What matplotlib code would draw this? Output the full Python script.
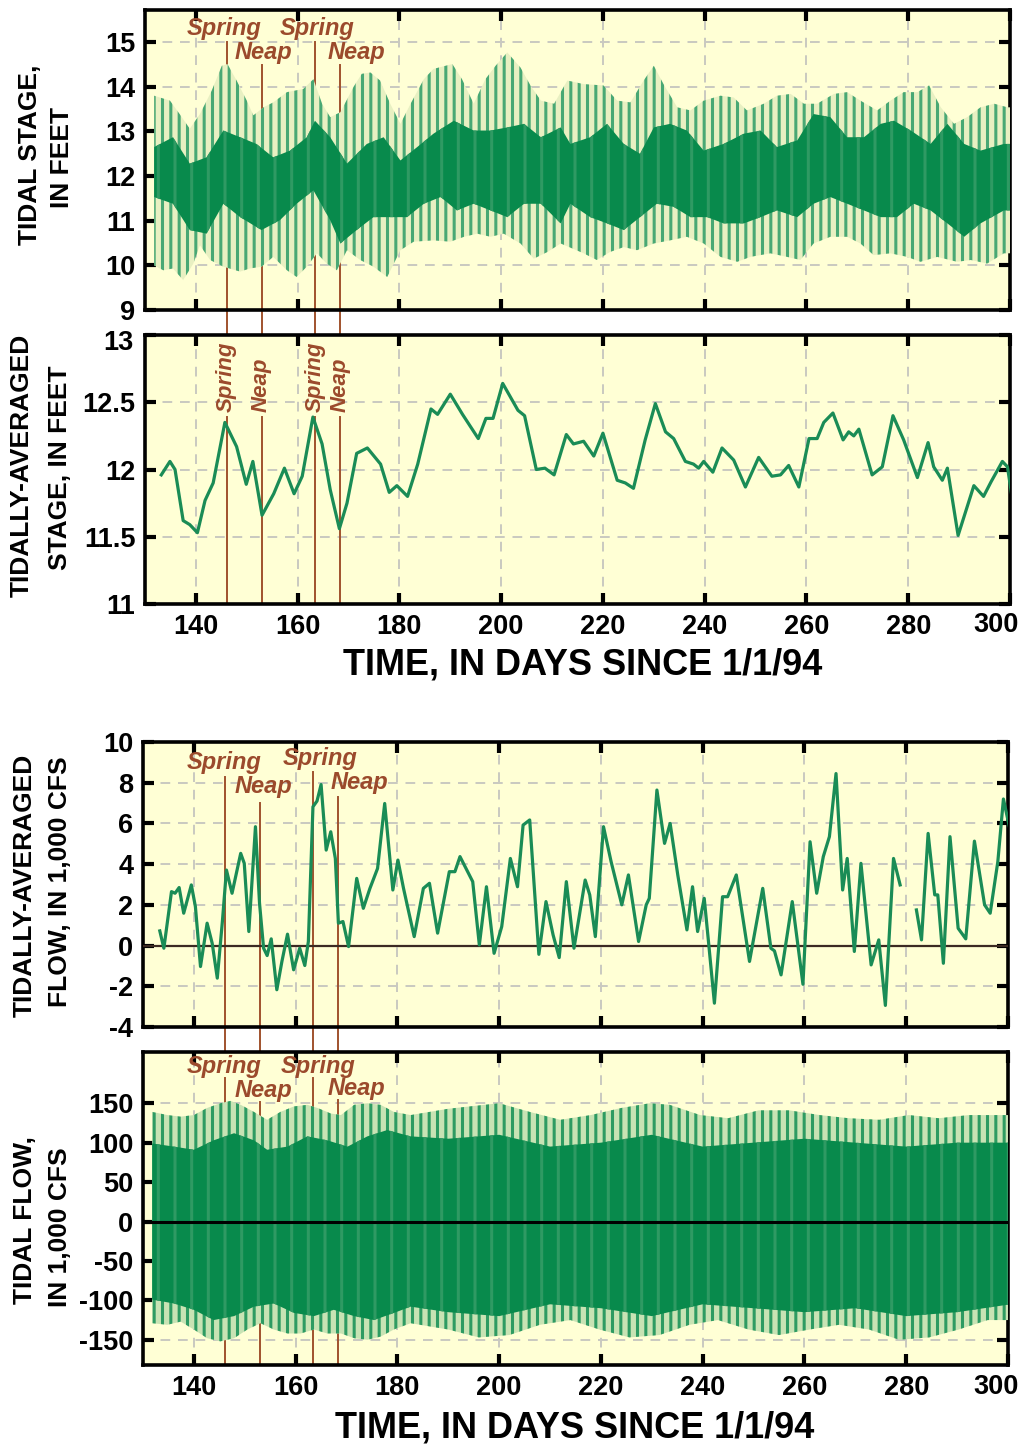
import numpy as np
import matplotlib
matplotlib.use('Agg')
import matplotlib.pyplot as plt
from matplotlib.lines import Line2D
import matplotlib.transforms as mtrans

# ---------------- data ----------------
# Panel 1: tidal stage envelopes (feet)
stage_hi_day = [131.8, 134.9, 136.8, 138.8, 140.8, 143.1, 145.1, 146.2, 148.0, 150.0, 151.3, 153.3, 155.2, 157.9,
                161.1, 163.1, 164.8, 166.4, 168.4, 171.0, 172.6, 174.3, 176.2, 178.2, 180.2, 182.2, 184.8, 186.7,
                190.4, 192.3, 194.6, 196.9, 198.9, 201.2, 203.8, 205.8, 207.8, 210.4, 213.0, 216.2, 220.1, 222.8,
                225.4, 228.0, 230.0, 231.9, 234.6, 237.2, 239.8, 243.1, 245.7, 248.3, 251.6, 254.2, 256.9, 259.5,
                262.1, 265.4, 268.0, 270.6, 273.9, 276.5, 279.1, 281.8, 284.1, 286.4, 289.0, 291.6, 294.2, 296.9,
                299.5, 300.5]
stage_hi = [13.80, 13.69, 13.39, 13.06, 13.39, 13.91, 14.47, 14.51, 14.14, 13.69, 13.36, 13.54, 13.65, 13.88,
            13.95, 14.17, 13.62, 13.32, 13.43, 14.00, 14.29, 14.32, 14.14, 13.62, 13.17, 13.62, 14.17, 14.40,
            14.51, 14.17, 13.62, 14.17, 14.47, 14.77, 14.43, 14.02, 13.69, 13.62, 14.14, 14.06, 14.03, 13.69,
            13.65, 14.14, 14.47, 14.06, 13.54, 13.47, 13.69, 13.80, 13.76, 13.47, 13.62, 13.80, 13.84, 13.62,
            13.62, 13.84, 13.88, 13.69, 13.47, 13.69, 13.88, 13.88, 14.03, 13.54, 13.17, 13.32, 13.54, 13.62,
            13.54, 13.54]
stage_lo_day = [131.8, 133.6, 135.5, 137.5, 139.5, 140.8, 142.8, 145.4, 148.7, 150.6, 152.9, 155.2, 157.9, 159.8,
                161.8, 163.8, 165.7, 167.7, 169.7, 172.3, 174.9, 177.6, 180.2, 182.8, 186.7, 190.0, 192.7, 195.3,
                197.9, 200.5, 203.8, 206.4, 209.1, 211.7, 216.2, 218.8, 221.4, 224.1, 226.7, 230.0, 233.2, 236.5,
                239.8, 243.1, 246.4, 249.0, 252.9, 256.2, 258.8, 261.4, 264.7, 268.0, 270.6, 273.2, 276.5, 279.8,
                282.4, 285.7, 289.6, 292.3, 295.5, 298.8, 300.5]
stage_lo = [10.00, 9.89, 9.93, 9.67, 10.04, 10.45, 10.12, 9.97, 9.86, 9.93, 9.97, 10.19, 9.89, 9.74,
            9.97, 10.27, 10.04, 9.89, 10.34, 10.12, 9.97, 9.74, 10.34, 10.53, 10.56, 10.53, 10.64, 10.71,
            10.64, 10.71, 10.49, 10.15, 10.30, 10.49, 10.27, 10.12, 10.30, 10.41, 10.34, 10.49, 10.56, 10.64,
            10.49, 10.19, 10.08, 10.19, 10.27, 10.19, 10.12, 10.49, 10.64, 10.64, 10.49, 10.23, 10.27, 10.19,
            10.08, 10.19, 10.08, 10.12, 10.04, 10.27, 10.27]
stage_in_hi_day = [131.8, 135.5, 138.8, 142.1, 145.4, 148.7, 151.9, 155.2, 158.5, 161.8, 163.4, 166.4, 169.7, 173.6,
                   176.9, 180.2, 183.5, 186.7, 190.7, 194.6, 197.9, 201.2, 204.5, 207.8, 211.7, 213.6, 217.5, 220.8,
                   224.1, 227.3, 230.0, 233.2, 236.5, 239.8, 243.7, 247.7, 251.0, 254.2, 258.2, 261.4, 264.7, 268.0,
                   271.3, 274.6, 277.2, 280.5, 284.4, 287.7, 291.0, 294.2, 298.8, 300.5]
stage_in_hi = [12.65, 12.87, 12.28, 12.42, 13.02, 12.87, 12.72, 12.42, 12.57, 12.87, 13.24, 12.87, 12.28, 12.72,
               12.87, 12.35, 12.65, 12.95, 13.24, 13.02, 13.02, 13.09, 13.17, 12.87, 13.09, 12.72, 12.87, 13.17,
               12.72, 12.50, 13.09, 13.17, 13.02, 12.57, 12.72, 12.95, 13.02, 12.65, 12.80, 13.39, 13.32, 12.87,
               12.87, 13.17, 13.24, 13.02, 12.72, 13.17, 12.72, 12.57, 12.72, 12.72]
stage_in_lo_day = [131.8, 135.5, 138.8, 142.1, 145.4, 148.7, 152.9, 156.5, 159.8, 163.1, 166.4, 168.4, 171.6, 174.9,
                   178.2, 181.5, 184.8, 188.1, 191.3, 194.6, 197.9, 201.2, 204.5, 207.8, 211.7, 213.6, 217.5, 220.8,
                   224.1, 227.3, 230.6, 233.9, 237.2, 240.5, 243.7, 247.7, 251.0, 254.2, 258.2, 261.4, 264.7, 268.0,
                   271.3, 274.6, 277.8, 281.1, 284.4, 287.7, 291.0, 294.2, 298.8, 300.5]
stage_in_lo = [11.53, 11.38, 10.79, 10.71, 11.38, 11.08, 10.79, 11.01, 11.38, 11.68, 11.01, 10.49, 10.79, 11.08,
               11.08, 11.08, 11.38, 11.53, 11.23, 11.38, 11.23, 11.08, 11.38, 11.38, 10.94, 11.38, 11.08, 10.94,
               10.79, 11.08, 11.38, 11.31, 11.08, 11.08, 10.94, 10.94, 11.08, 11.23, 11.08, 11.38, 11.53, 11.38,
               11.23, 11.08, 11.08, 11.38, 11.23, 10.94, 10.64, 10.94, 11.23, 11.23]

# Panel 2: tidally-averaged stage (feet)
avg_stage_day = [133.2, 134.9, 135.9, 137.5, 138.8, 140.3, 141.8, 143.4, 145.7, 148.0, 149.9, 151.2, 153.0, 155.3,
                 157.4, 159.3, 160.9, 163.0, 164.8, 166.4, 168.2, 169.7, 171.6, 173.7, 176.3, 178.0, 179.5, 181.6,
                 183.6, 186.2, 187.5, 190.0, 192.4, 195.5, 197.0, 198.4, 200.3, 203.3, 204.6, 206.9, 208.6, 210.4,
                 212.8, 214.2, 216.2, 218.2, 220.0, 222.8, 224.4, 226.0, 228.3, 230.3, 232.3, 233.9, 236.2, 237.8,
                 238.8, 239.8, 241.6, 243.4, 245.7, 248.0, 250.6, 253.2, 254.9, 256.5, 258.5, 260.5, 262.1, 263.4,
                 265.2, 267.2, 268.3, 269.3, 270.3, 272.9, 274.9, 277.0, 279.1, 281.8, 283.9, 285.0, 286.7, 287.7,
                 289.8, 292.9, 294.8, 296.3, 298.5, 299.5, 300.5]
avg_stage = [11.96, 12.06, 12.00, 11.62, 11.59, 11.53, 11.77, 11.90, 12.35, 12.17, 11.89, 12.06, 11.66, 11.82,
             12.01, 11.82, 11.95, 12.39, 12.19, 11.85, 11.56, 11.75, 12.12, 12.16, 12.04, 11.83, 11.88, 11.80,
             12.04, 12.45, 12.41, 12.56, 12.41, 12.23, 12.38, 12.38, 12.64, 12.44, 12.40, 12.00, 12.01, 11.96,
             12.26, 12.19, 12.21, 12.10, 12.27, 11.92, 11.90, 11.86, 12.22, 12.49, 12.28, 12.23, 12.06, 12.04,
             12.01, 12.06, 11.98, 12.16, 12.07, 11.87, 12.09, 11.95, 11.96, 12.03, 11.87, 12.23, 12.23, 12.35,
             12.42, 12.22, 12.28, 12.25, 12.30, 11.96, 12.02, 12.40, 12.22, 11.94, 12.20, 12.02, 11.92, 12.01,
             11.51, 11.88, 11.80, 11.91, 12.06, 12.02, 11.77]

# Panel 3: tidally-averaged flow (1,000 cfs); nan = data gap
avg_flow_day = [133.3, 134.1, 135.6, 136.3, 137.1, 138.0, 139.5, 140.3, 141.3, 142.6, 143.6, 144.6, 145.6, 146.4,
                147.5, 149.2, 149.9, 150.8, 152.1, 152.9, 153.7, 154.4, 155.2, 156.3, 157.3, 158.4, 159.6, 160.8,
                161.8, 162.5, 163.4, 164.2, 165.0, 166.0, 166.9, 167.8, 168.4, 169.3, 170.4, 172.0, 173.3, 174.6,
                176.1, 177.5, 179.1, 180.1, 181.2, 183.3, 185.1, 186.3, 187.9, 190.2, 191.3, 192.3, 194.8, 196.1,
                197.5, 199.0, 200.5, 202.2, 203.6, 204.7, 206.0, 207.8, 209.2, 210.6, 211.8, 213.2, 214.7, 216.9,
                217.8, 218.9, 220.5, 222.0, 224.1, 225.4, 227.4, 228.9, 229.5, 231.0, 232.5, 233.6, 235.1, 236.9,
                238.0, 239.0, 240.3, 241.2, 242.3, 243.9, 244.9, 246.6, 249.2, 251.8, 253.4, 254.1, 255.4, 257.6,
                259.7, 261.1, 262.4, 263.7, 264.9, 266.2, 267.5, 268.4, 269.8, 271.1, 273.1, 274.6, 275.9, 277.5,
                278.8, 280.4, 282.0, 283.0, 284.3, 285.6, 286.2, 287.3, 288.6, 290.2, 291.7, 293.4, 295.4, 296.5,
                298.0, 299.1, 300.3]
avg_flow = [0.72, -0.13, 2.65, 2.57, 2.85, 1.59, 2.98, 1.91, -1.03, 1.10, 0.11, -1.60, 1.18, 3.71,
            2.57, 4.53, 4.04, 0.69, 5.84, 2.08, -0.13, -0.49, 0.33, -2.17, -0.78, 0.56, -1.19, -0.13,
            -0.98, 0.20, 6.82, 7.10, 7.91, 4.69, 5.59, 4.28, 1.10, 1.18, -0.05, 3.30, 1.83, 2.81,
            3.79, 6.98, 2.73, 4.20, 2.81, 0.44, 2.81, 3.06, 0.61, 3.63, 3.63, 4.37, 3.14, 0.03,
            2.89, -0.38, 0.93, 4.28, 2.89, 5.92, 6.17, -0.43, 2.16, 0.52, -0.59, 3.14, -0.13, 3.22,
            2.49, 0.44, 5.84, 4.12, 2.00, 3.47, 0.20, 2.00, 2.32, 7.64, 5.02, 6.00, 3.47, 0.77,
            2.89, 0.69, 2.32, 0.03, -2.83, 2.40, 2.40, 3.47, -0.78, 2.81, -0.13, -0.26, -1.44, 2.16,
            -1.90, 5.10, 2.57, 4.37, 5.35, 8.45, 2.73, 4.28, -0.29, 4.04, -0.95, 0.28, -2.94, 4.28,
            2.98, np.nan, 1.75, 0.28, 5.51, 2.49, 2.49, -0.87, 5.35, 0.85, 0.33, 5.13, 2.00, 1.59,
            4.12, 7.20, 5.80]

# Panel 4: tidal flow envelopes (1,000 cfs)
flow_hi_day = [131.8, 134.8, 137.4, 140.0, 142.6, 145.2, 147.2, 149.2, 151.8, 154.4, 157.0, 159.7, 162.3, 164.3,
               166.9, 168.9, 171.5, 174.1, 176.7, 179.3, 182.6, 190.0, 200.0, 206.0, 212.0, 218.0, 224.0, 229.6,
               233.5, 239.5, 245.0, 251.0, 257.0, 263.0, 268.7, 274.7, 280.5, 286.4, 292.3, 298.0, 300.5]
flow_hi = [139, 135, 133, 135, 144, 150, 153, 148, 139, 129, 139, 146, 148, 144,
           137, 135, 148, 150, 148, 139, 135, 143, 150, 139, 129, 135, 144, 150,
           148, 135, 131, 141, 141, 135, 131, 129, 135, 131, 135, 135, 135]
flow_lo_day = [131.8, 134.8, 137.4, 140.0, 142.6, 145.2, 147.9, 150.5, 153.1, 155.7, 158.4, 161.0, 163.6, 166.2,
               168.9, 171.5, 174.1, 176.7, 179.3, 182.6, 190.0, 196.0, 202.0, 208.0, 214.0, 219.7, 225.6, 231.5,
               237.4, 243.0, 249.0, 255.0, 261.0, 266.8, 272.7, 278.6, 284.5, 290.3, 296.0, 300.5]
flow_lo = [-129, -131, -127, -137, -148, -152, -148, -137, -129, -137, -142, -142, -137, -142,
           -142, -148, -150, -146, -137, -129, -137, -147, -144, -131, -125, -137, -147, -144,
           -131, -125, -137, -144, -137, -131, -137, -150, -147, -137, -125, -125]
flow_in_hi_day = [131.8, 136.1, 140.0, 143.9, 147.9, 151.8, 154.4, 158.4, 162.3, 166.2, 170.2, 174.1, 178.0, 182.6,
                  190.0, 200.0, 210.0, 220.0, 230.0, 240.0, 250.0, 260.0, 270.0, 280.0, 290.0, 300.5]
flow_in_hi = [99, 95, 91, 103, 112, 103, 91, 95, 108, 103, 95, 108, 116, 108,
              105, 110, 95, 100, 110, 95, 100, 105, 100, 95, 100, 100]
flow_in_lo_day = [131.8, 136.1, 140.0, 143.9, 147.9, 151.8, 155.7, 159.7, 163.6, 167.5, 171.5, 175.4, 179.3, 182.6,
                  190.0, 200.0, 210.0, 220.0, 230.0, 240.0, 250.0, 260.0, 270.0, 280.0, 290.0, 300.5]
flow_in_lo = [-99, -104, -112, -125, -120, -108, -104, -116, -120, -112, -120, -125, -116, -108,
              -115, -120, -105, -110, -120, -105, -110, -115, -110, -120, -115, -105]

# Spring / neap markers (days)
marker_days = [146.2, 153.0, 163.5, 168.4]
marker_names = ['Spring', 'Neap', 'Spring', 'Neap']

x_ticks = [140, 160, 180, 200, 220, 240, 260, 280, 300]
stage_ticks = [9, 10, 11, 12, 13, 14, 15]
avg_stage_ticks = [11, 11.5, 12, 12.5, 13]
avg_flow_ticks = [-4, -2, 0, 2, 4, 6, 8, 10]
flow_ticks = [-150, -100, -50, 0, 50, 100, 150]

# ---------------- style ----------------
plt.rcParams['font.family'] = ['Liberation Sans', 'DejaVu Sans']
plt.rcParams['font.weight'] = 'bold'
plt.rcParams['hatch.linewidth'] = 2.2

BG = '#ffffd5'
LINE_G = '#1a8c56'
DARK_G = '#088a4c'
LIGHT_G = '#48a874'
BROWN = '#a0522d'
TXT_BROWN = '#9b4a2c'
GRID = '#c9c9c0'
TICK_FS = 19.5

W, H = 1021, 1450
fig = plt.figure(figsize=(W / 100, H / 100), dpi=100)
fig.patch.set_facecolor('white')


def ax_at(l, t, r, b):
    return fig.add_axes([l / W, 1 - b / H, (r - l) / W, (b - t) / H])


def ftext(xpx, ypx, s, **kw):
    fig.text(xpx / W, 1 - ypx / H, s, **kw)


def style(ax, yticks, ylim, showx, hide_top_ylabel=False):
    ax.set_facecolor(BG)
    ax.set_xlim(130, 300)
    ax.set_ylim(*ylim)
    ax.set_xticks(x_ticks)
    # last x label (300) is drawn separately so that it stays inside the figure
    ax.set_xticklabels([str(v) for v in x_ticks[:-1]] + [''])
    ax.set_yticks(yticks)
    ylabels = ['%g' % v for v in yticks]
    if hide_top_ylabel:
        ylabels[-1] = ''
    ax.set_yticklabels(ylabels)
    ax.tick_params(direction='in', length=8, width=3, top=True, right=True,
                   labelsize=TICK_FS, pad=7)
    if not showx:
        ax.tick_params(labelbottom=False)
    for s in ax.spines.values():
        s.set_linewidth(2.6)
    ax.grid(True, color=GRID, linestyle=(0, (5, 4)), linewidth=1.4)
    ax.set_axisbelow(True)


def vline(ax, d, ytop, ybot, z=2.5):
    tr = mtrans.blended_transform_factory(ax.transData, fig.transFigure)
    ax.add_line(Line2D([d, d], [1 - ytop / H, 1 - ybot / H], transform=tr, color=BROWN,
                       lw=1.4, clip_on=False, zorder=z))


def envelope(ax, dh, vh, dl, vl, **kw):
    xs = np.concatenate([np.asarray(dh), np.asarray(dl)[::-1]])
    ys = np.concatenate([np.asarray(vh), np.asarray(vl)[::-1]])
    return ax.fill(xs, ys, **kw)


ax1 = ax_at(145, 10, 1010, 310)
ax2 = ax_at(145, 335, 1010, 604)
ax3 = ax_at(143, 742, 1008, 1027)
ax4 = ax_at(143, 1052, 1008, 1365)

style(ax1, stage_ticks, (9, 15.72), False)
style(ax2, avg_stage_ticks, (11, 13), True, hide_top_ylabel=True)
style(ax3, avg_flow_ticks, (-4, 10), False)
style(ax4, flow_ticks, (-182, 215), True)

tick_txt = dict(fontsize=TICK_FS, fontweight='bold', ha='center', va='center', color='black')
ftext(996, 625, '300', **tick_txt)
ftext(996, 1387, '300', **tick_txt)
ftext(118, 343, '13', **tick_txt)

# Panel 1
envelope(ax1, stage_hi_day, stage_hi, stage_lo_day, stage_lo,
         facecolor='#e8f0c2', edgecolor=LIGHT_G, hatch='||', linewidth=0, zorder=3)
envelope(ax1, stage_in_hi_day, stage_in_hi, stage_in_lo_day, stage_in_lo,
         facecolor=DARK_G, edgecolor='#2f9a63', hatch='|', linewidth=0, zorder=3.2)

# Panel 2
ax2.plot(avg_stage_day, avg_stage, color=LINE_G, lw=2.3, zorder=3, solid_joinstyle='round')

# Panel 3
ax3.axhline(0, color='#3b2a22', lw=1.6, zorder=2.6)
ax3.plot(avg_flow_day, avg_flow, color=LINE_G, lw=2.3, zorder=3, solid_joinstyle='round')

# Panel 4
envelope(ax4, flow_hi_day, flow_hi, flow_lo_day, flow_lo,
         facecolor='#c8e3b4', edgecolor='#2e9b62', hatch='||', linewidth=0, zorder=3)
envelope(ax4, flow_in_hi_day, flow_in_hi, flow_in_lo_day, flow_in_lo,
         facecolor=DARK_G, edgecolor='#2f9a63', hatch='|', linewidth=0, zorder=3.2)
ax4.axhline(0, color='black', lw=2.2, zorder=4)

# Spring / neap marker lines
top_start = {'Spring': 42, 'Neap': 65}
for d, n in zip(marker_days, marker_names):
    vline(ax1, d, top_start[n], 335)
    vline(ax2, d, 417, 604)
b3_start = [777, 803, 772, 797]
b4_start = [1078, 1102, 1078, 1100]
for d, s3, s4 in zip(marker_days, b3_start, b4_start):
    vline(ax3, d, s3, 1052)
    vline(ax4, d, s4, 1365)

lab = dict(color=TXT_BROWN, fontsize=17, fontstyle='italic', fontweight='bold', ha='center', va='center')
for (x, y), s in zip([(224.5, 28), (263, 53), (317.5, 28), (356, 53)], marker_names):
    ftext(x, y, s, **lab)
labr = dict(color=TXT_BROWN, fontsize=16, fontstyle='italic', fontweight='bold', ha='center', va='bottom',
            rotation=90)
for x, s in zip([226, 261, 315, 340], marker_names):
    ftext(x, 412, s, **labr)
for (x, y), s in zip([(224, 762), (263, 786), (320, 759), (359, 783)], marker_names):
    ftext(x, y, s, **lab)
for (x, y), s in zip([(224, 1067), (263, 1090), (318.5, 1066), (356, 1088)], marker_names):
    ftext(x, y, s, **lab)

# axis titles
yl = dict(fontsize=19, fontweight='bold', rotation=90, ha='center', va='center', color='black')
ftext(30, 155, 'TIDAL STAGE,', **yl)
ftext(62, 157, 'IN FEET', **yl)
ftext(22, 465, 'TIDALLY-AVERAGED', **yl)
ftext(60, 468, 'STAGE, IN FEET', **yl)
ftext(25, 885, 'TIDALLY-AVERAGED', **yl)
ftext(60, 882, 'FLOW, IN 1,000 CFS', **yl)
ftext(25, 1220, 'TIDAL FLOW,', **yl)
ftext(60, 1227, 'IN 1,000 CFS', **yl)

xl = dict(fontsize=26, fontweight='bold', ha='center', va='center', color='black')
ftext(582.5, 665, 'TIME, IN DAYS SINCE 1/1/94', **xl)
ftext(575, 1428, 'TIME, IN DAYS SINCE 1/1/94', **xl)

fig.savefig('out.png', dpi=100, facecolor='white')
